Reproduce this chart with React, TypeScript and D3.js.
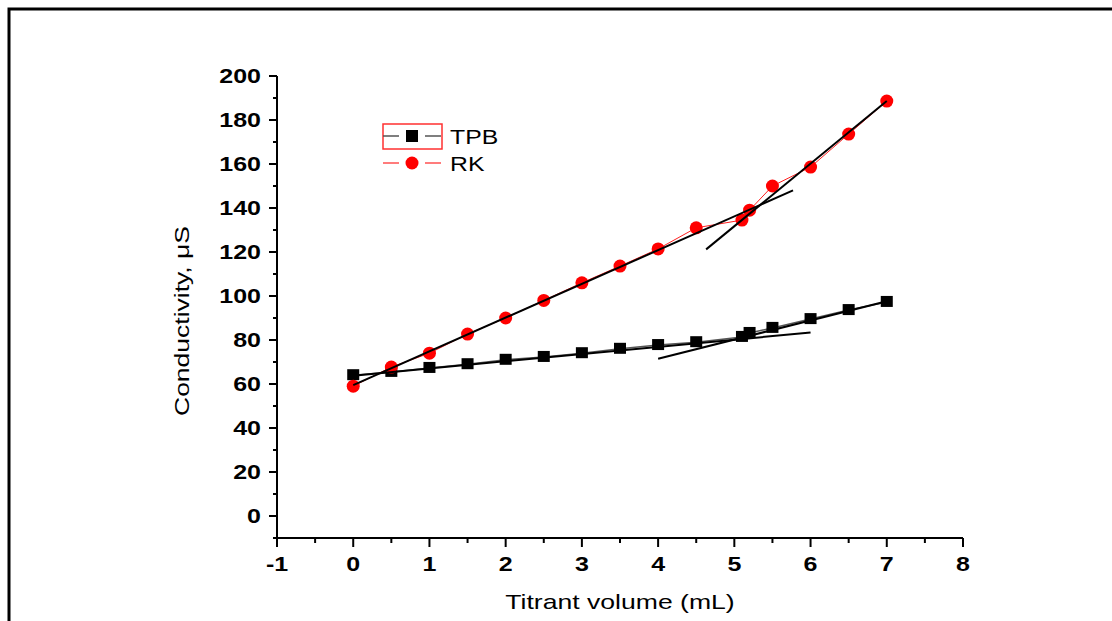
import React, { useEffect, useRef } from 'react'
import * as d3 from 'd3'

const volume = [0, 0.5, 1, 1.5, 2, 2.5, 3, 3.5, 4, 4.5, 5.1, 5.2, 5.5, 6, 6.5, 7]
const tpb = [64, 65.5, 67.3, 69, 71, 72.3, 74, 76, 77.7, 79, 81.4, 83.2, 85.5, 89.5, 93.6, 97.3]
const rk = [59, 67.7, 74, 82.7, 90, 98, 106, 113.6, 121.4, 131, 134.5, 139, 150, 158.6, 173.6, 188.6]

// straight fits over the two branches of each curve: [x0, y0, x1, y1]
const fitRk = [[0, 59.5, 5.77, 148], [4.63, 121.2, 7, 188.6]]
const fitTpb = [[0, 63.8, 6, 83.4], [4, 71.5, 7, 97.6]]

const xTicks = [-1, 0, 1, 2, 3, 4, 5, 6, 7, 8]
const yTicks = [0, 20, 40, 60, 80, 100, 120, 140, 160, 180, 200]

const FONT = '"Liberation Sans", Arial, sans-serif'
const SX = 1.3 // text in the source is drawn wide

function App() {
  const ref = useRef<SVGSVGElement>(null)

  useEffect(() => {
    const svg = d3.select(ref.current)
    svg.selectAll('*').remove()

    const x = d3.scaleLinear().domain([-1, 8]).range([277, 963])
    const y = d3.scaleLinear().domain([-10, 200]).range([538, 76])

    // page frame
    svg.append('path')
      .attr('d', 'M9,621 V9 H1112')
      .attr('fill', 'none')
      .attr('stroke', '#000')
      .attr('stroke-width', 3)

    const wideText = (g: any, px: number, py: number, txt: string, size: number, weight: string, anchor: string, sx = SX) => {
      g.append('text')
        .attr('transform', `translate(${px},${py}) scale(${sx},1)`)
        .attr('text-anchor', anchor)
        .attr('font-family', FONT)
        .attr('font-size', size)
        .attr('font-weight', weight)
        .attr('fill', '#000')
        .text(txt)
    }

    // axes
    const ax = svg.append('g')
    ax.append('line').attr('x1', x(-1)).attr('x2', x(8)).attr('y1', y(-10)).attr('y2', y(-10))
      .attr('stroke', '#000').attr('stroke-width', 2)
    ax.append('line').attr('x1', x(-1)).attr('x2', x(-1)).attr('y1', y(-10)).attr('y2', y(200))
      .attr('stroke', '#000').attr('stroke-width', 2)

    d3.range(-1, 8.01, 0.5).forEach(v => {
      const major = Number.isInteger(v)
      ax.append('line').attr('x1', x(v)).attr('x2', x(v))
        .attr('y1', y(-10)).attr('y2', y(-10) + (major ? 9 : 5))
        .attr('stroke', '#000').attr('stroke-width', 2)
    })
    d3.range(-10, 200.01, 10).forEach(v => {
      const major = v % 20 === 0
      ax.append('line').attr('x1', x(-1)).attr('x2', x(-1) - (major ? 8 : 4))
        .attr('y1', y(v)).attr('y2', y(v))
        .attr('stroke', '#000').attr('stroke-width', 2)
    })
    xTicks.forEach(v => wideText(ax, x(v), 571, String(v), 20, 'bold', 'middle', 1.25))
    yTicks.forEach(v => wideText(ax, x(-1) - 16, y(v) + 7, String(v), 20, 'bold', 'end', 1.25))

    wideText(ax, 620, 609, 'Titrant volume (mL)', 20, 'normal', 'middle', 1.33)
    ax.append('text')
      .attr('transform', `translate(189,321) rotate(-90)`)
      .attr('text-anchor', 'middle')
      .attr('font-family', FONT)
      .attr('font-size', 21)
      .attr('textLength', 190)
      .attr('lengthAdjust', 'spacingAndGlyphs')
      .text('Conductivity, μS')

    const line = d3.line<number>().x((_, i) => x(volume[i])).y(d => y(d))

    // TPB series
    svg.append('path').attr('d', line(tpb)).attr('fill', 'none')
      .attr('stroke', '#555').attr('stroke-width', 1.5)
    svg.append('g').selectAll('rect').data(tpb).enter().append('rect')
      .attr('x', (_, i) => x(volume[i]) - 6)
      .attr('y', d => y(d) - 6)
      .attr('width', 12).attr('height', 11)
      .attr('fill', '#000')

    // RK series
    svg.append('path').attr('d', line(rk)).attr('fill', 'none')
      .attr('stroke', '#ff2020').attr('stroke-width', 1)
    svg.append('g').selectAll('circle').data(rk).enter().append('circle')
      .attr('cx', (_, i) => x(volume[i]))
      .attr('cy', d => y(d))
      .attr('r', 6.5)
      .attr('fill', '#ff0000')

    // fitted lines, on top of the markers
    const fits = svg.append('g')
    fitTpb.concat(fitRk).forEach(f => {
      fits.append('line')
        .attr('x1', x(f[0])).attr('y1', y(f[1]))
        .attr('x2', x(f[2])).attr('y2', y(f[3]))
        .attr('stroke', '#000').attr('stroke-width', 2)
    })

    // legend
    const lg = svg.append('g')
    lg.append('rect').attr('x', 383).attr('y', 124).attr('width', 59).attr('height', 25)
      .attr('fill', 'none').attr('stroke', '#ff3030').attr('stroke-width', 1.5)
    ;[[383, 399], [425, 441]].forEach(s => {
      lg.append('line').attr('x1', s[0]).attr('x2', s[1]).attr('y1', 136).attr('y2', 136)
        .attr('stroke', '#555').attr('stroke-width', 1.5)
      lg.append('line').attr('x1', s[0]).attr('x2', s[1]).attr('y1', 163).attr('y2', 163)
        .attr('stroke', '#ff5050').attr('stroke-width', 1.5)
    })
    lg.append('rect').attr('x', 406).attr('y', 130).attr('width', 12).attr('height', 12).attr('fill', '#000')
    lg.append('circle').attr('cx', 412).attr('cy', 163).attr('r', 6.5).attr('fill', '#ff0000')
    wideText(lg, 450, 144, 'TPB', 21, 'normal', 'start', 1.18)
    wideText(lg, 450, 171, 'RK', 21, 'normal', 'start', 1.18)
  }, [])

  return (
    <svg ref={ref} width={1112} height={621}
      style={{ position: 'absolute', left: 0, top: 0, background: '#fff' }} />
  )
}

export default App
